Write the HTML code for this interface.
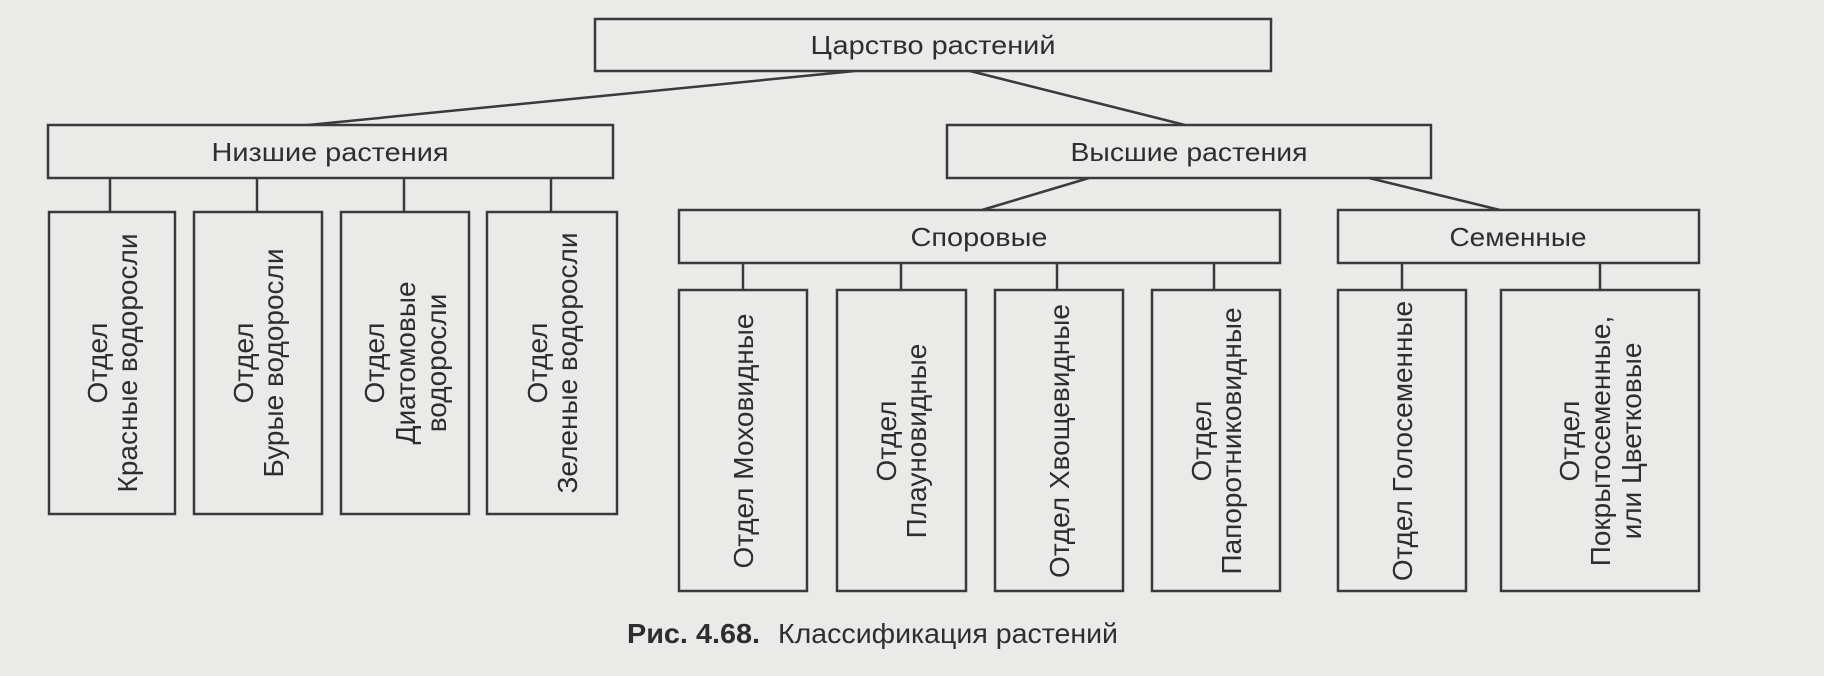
<!DOCTYPE html>
<html><head><meta charset="utf-8"><style>
html,body{margin:0;padding:0;background:#eaeae8;}
svg{display:block}
text{font-family:"Liberation Sans",sans-serif;fill:#2e2e2e;}
</style></head><body>
<svg width="1824" height="676" viewBox="0 0 1824 676" xmlns="http://www.w3.org/2000/svg">
<rect width="1824" height="676" fill="#eaeae8"/>
<g fill="none" stroke="#3a3a3a" stroke-width="2.5">
<rect x="595" y="19" width="676" height="52"/>
<rect x="48" y="125" width="565" height="53"/>
<rect x="947" y="125" width="484" height="53"/>
<rect x="679" y="210" width="601" height="53"/>
<rect x="1338" y="210" width="361" height="53"/>
<rect x="49" y="212" width="126" height="302"/>
<rect x="194" y="212" width="128" height="302"/>
<rect x="341" y="212" width="128" height="302"/>
<rect x="487" y="212" width="130" height="302"/>
<rect x="679" y="290" width="128" height="301"/>
<rect x="837" y="290" width="129" height="301"/>
<rect x="995" y="290" width="128" height="301"/>
<rect x="1152" y="290" width="128" height="301"/>
<rect x="1338" y="290" width="128" height="301"/>
<rect x="1501" y="290" width="198" height="301"/>
<line x1="855" y1="71" x2="308" y2="125"/>
<line x1="970" y1="71" x2="1185" y2="125"/>
<line x1="1089" y1="178" x2="982" y2="210"/>
<line x1="1369" y1="178" x2="1500" y2="210"/>
<line x1="110" y1="178" x2="110" y2="212"/>
<line x1="257" y1="178" x2="257" y2="212"/>
<line x1="404" y1="178" x2="404" y2="212"/>
<line x1="551" y1="178" x2="551" y2="212"/>
<line x1="743" y1="263" x2="743" y2="290"/>
<line x1="901" y1="263" x2="901" y2="290"/>
<line x1="1057" y1="263" x2="1057" y2="290"/>
<line x1="1214" y1="263" x2="1214" y2="290"/>
<line x1="1402" y1="263" x2="1402" y2="290"/>
<line x1="1600" y1="263" x2="1600" y2="290"/>
</g>
<g font-size="26" text-anchor="middle">
<text x="933" y="54" textLength="245" lengthAdjust="spacingAndGlyphs">Царство растений</text>
<text x="330" y="161" textLength="237" lengthAdjust="spacingAndGlyphs">Низшие растения</text>
<text x="1189" y="161" textLength="237" lengthAdjust="spacingAndGlyphs">Высшие растения</text>
<text x="979" y="246" textLength="137" lengthAdjust="spacingAndGlyphs">Споровые</text>
<text x="1518" y="246" textLength="137" lengthAdjust="spacingAndGlyphs">Семенные</text>
</g>
<g font-size="28" text-anchor="middle">
<text transform="translate(112,363) rotate(-90)"><tspan x="0" y="-5">Отдел</tspan><tspan x="0" y="25">Красные водоросли</tspan></text>
<text transform="translate(258,363) rotate(-90)"><tspan x="0" y="-5">Отдел</tspan><tspan x="0" y="25">Бурые водоросли</tspan></text>
<text transform="translate(405,363) rotate(-90)"><tspan x="0" y="-21">Отдел</tspan><tspan x="0" y="10">Диатомовые</tspan><tspan x="0" y="41">водоросли</tspan></text>
<text transform="translate(552,363) rotate(-90)"><tspan x="0" y="-5">Отдел</tspan><tspan x="0" y="25">Зеленые водоросли</tspan></text>
<text transform="translate(743,441) rotate(-90)"><tspan x="0" y="10">Отдел Моховидные</tspan></text>
<text transform="translate(901,441) rotate(-90)"><tspan x="0" y="-5">Отдел</tspan><tspan x="0" y="25">Плауновидные</tspan></text>
<text transform="translate(1059,441) rotate(-90)"><tspan x="0" y="10">Отдел Хвощевидные</tspan></text>
<text transform="translate(1216,441) rotate(-90)"><tspan x="0" y="-5">Отдел</tspan><tspan x="0" y="25">Папоротниковидные</tspan></text>
<text transform="translate(1402,441) rotate(-90)"><tspan x="0" y="10">Отдел Голосеменные</tspan></text>
<text transform="translate(1600,441) rotate(-90)"><tspan x="0" y="-21">Отдел</tspan><tspan x="0" y="10">Покрытосеменные,</tspan><tspan x="0" y="41">или Цветковые</tspan></text>
</g>
<text x="627" y="643" font-size="28" font-weight="bold" textLength="133" lengthAdjust="spacingAndGlyphs">Рис. 4.68.</text>
<text x="778" y="643" font-size="28" textLength="340" lengthAdjust="spacingAndGlyphs">Классификация растений</text>
</svg>
</body></html>
